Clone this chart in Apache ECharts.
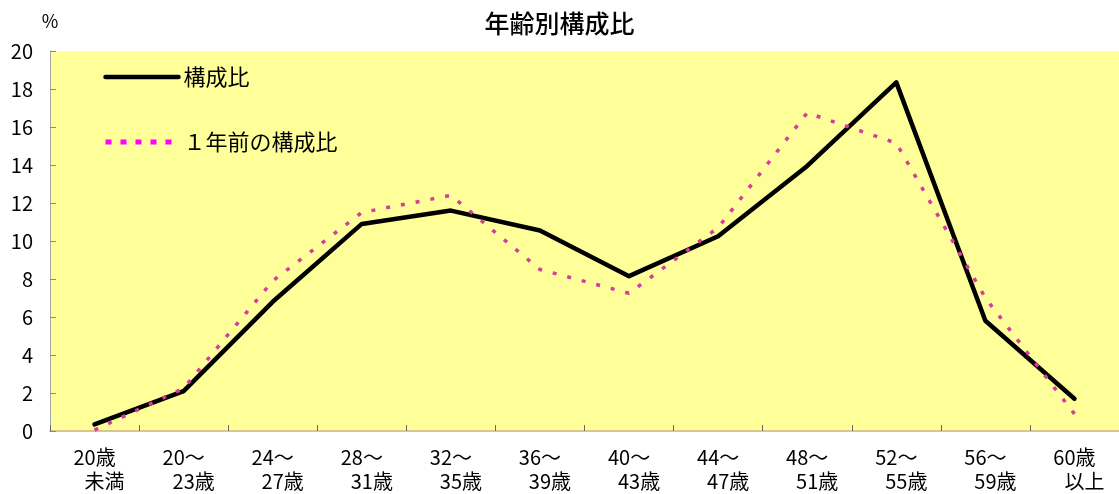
<!DOCTYPE html>
<html>
<head>
<meta charset="utf-8">
<script src="https://cdn.jsdelivr.net/npm/echarts@6/dist/echarts.min.js"></script>
<style>
html,body{margin:0;padding:0;background:#fff;overflow:hidden;}
#c{width:1119px;height:494px;}
</style>
</head>
<body>
<div id="c"></div>
<script>
var categories = ['20歳\n　未満','20～\n　23歳','24～\n　27歳','28～\n　31歳','32～\n　35歳','36～\n　39歳','40～\n　43歳','44～\n　47歳','48～\n　51歳','52～\n　55歳','56～\n　59歳','60歳\n　以上'];
var seriesCurrent = [0.35, 2.1, 6.8, 10.9, 11.6, 10.55, 8.15, 10.25, 13.95, 18.35, 5.8, 1.7];
var seriesPrev = [0.05, 2.25, 7.9, 11.5, 12.4, 8.5, 7.25, 10.7, 16.75, 15.15, 7.0, 0.9];
var nameCurrent = '構成比';
var namePrev = '１年前の構成比';
var titleText = '年齢別構成比';
var yUnit = '%';

var FONT = "'Noto Sans CJK JP', 'Noto Sans', sans-serif";
var chart = echarts.init(document.getElementById('c'));
chart.setOption({
  backgroundColor: '#ffffff',
  animation: false,
  title: {
    text: titleText, left: 'center', top: 11, padding: 0,
    textStyle: {fontFamily: FONT, fontSize: 25, fontWeight: 500, color: '#000'}
  },
  legend: {
    orient: 'vertical', left: 103, top: 66, padding: 0,
    itemWidth: 73, itemHeight: 20, itemGap: 43,
    itemStyle: {opacity: 0},
    textStyle: {fontFamily: FONT, fontSize: 22, color: '#000'},
    data: [
      {name: nameCurrent, lineStyle: {color: '#000', width: 4.5, cap: 'round'}},
      {name: namePrev, lineStyle: {color: '#FF00FF', width: 5, type: [6, 9]}}
    ]
  },
  grid: {
    left: 50, right: -7, top: 51, bottom: 63,
    show: true, backgroundColor: '#FFFF99', borderWidth: 0
  },
  xAxis: {
    type: 'category', data: categories, boundaryGap: true,
    axisLine: {show: true, lineStyle: {color: '#DCC48C', width: 2}},
    axisTick: {show: true, inside: true, length: 6, lineStyle: {color: '#666'}},
    axisLabel: {interval: 0, margin: 14, fontFamily: FONT, fontSize: 20, lineHeight: 24, color: '#000', align: 'center'},
    splitLine: {show: false}
  },
  yAxis: {
    type: 'value', min: 0, max: 20, interval: 2,
    name: yUnit, nameLocation: 'end', nameGap: 21,
    nameTextStyle: {fontFamily: FONT, fontSize: 18, color: '#000', align: 'center'},
    axisLine: {show: true, lineStyle: {color: '#A8A8A8', width: 1}},
    axisTick: {show: true, inside: true, length: 6, lineStyle: {color: '#888'}},
    axisLabel: {margin: 17, fontFamily: FONT, fontSize: 20, color: '#000'},
    splitLine: {show: false}
  },
  series: [
    {
      name: nameCurrent, type: 'line', data: seriesCurrent, symbol: 'none',
      lineStyle: {color: '#000', width: 4.5, cap: 'round', join: 'round'},
      itemStyle: {color: '#000'}, z: 2
    },
    {
      name: namePrev, type: 'line', data: seriesPrev, symbol: 'none',
      lineStyle: {color: '#D63C9C', width: 3.5, type: [4, 11]},
      itemStyle: {color: '#FF00FF'}, z: 3
    }
  ]
});
</script>
</body>
</html>
